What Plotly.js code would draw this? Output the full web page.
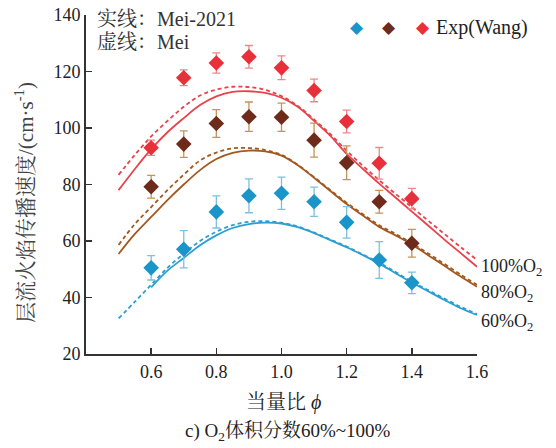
<!DOCTYPE html>
<html>
<head>
<meta charset="utf-8">
<script src="https://cdn.plot.ly/plotly-3.0.1.min.js"></script>
<style>html,body{margin:0;padding:0;background:#fff;}#chart{width:556px;height:448px;}</style>
</head>
<body>
<div id="chart"></div>
<script>
// Experimental points (Wang)
const expPhi = [0.6, 0.7, 0.8, 0.9, 1.0, 1.1, 1.2, 1.3, 1.4];
const exp100 = [93.0, 117.8, 123.0, 125.2, 121.3, 113.3, 102.3, 87.5, 75.0];
const err100 = [2.7, 2.8, 3.6, 4.0, 4.2, 4.0, 4.0, 5.6, 3.6];
const exp80 = [79.2, 94.3, 101.6, 104.0, 103.8, 95.7, 87.7, 73.9, 59.2];
const err80 = [4.0, 4.7, 4.9, 5.2, 5.0, 6.0, 6.0, 4.0, 4.9];
const exp60 = [50.5, 57.1, 70.3, 76.0, 76.9, 73.9, 66.6, 53.3, 45.2];
const err60 = [4.3, 6.6, 5.7, 6.0, 5.7, 5.2, 5.6, 6.5, 3.8];

// Model curves
const phiA = [0.5, 0.55, 0.6, 0.65, 0.7, 0.75, 0.8, 0.85, 0.9, 0.95, 1.0, 1.05, 1.1, 1.15, 1.2, 1.25, 1.3, 1.35, 1.4, 1.45, 1.5, 1.55, 1.6];
const mei2021_100 = [78.0, 85.5, 92.5, 98.5, 103.5, 108.1, 111.2, 112.8, 113.0, 112.4, 110.7, 107.5, 102.5, 97.2, 90.8, 85.5, 80.3, 75.4, 70.4, 65.5, 60.5, 55.7, 50.9];
const mei_100 = [83.4, 90.5, 97.0, 102.5, 107.5, 111.5, 113.6, 114.6, 114.5, 113.5, 111.3, 107.8, 103.0, 97.8, 92.0, 86.6, 81.5, 76.7, 72.0, 67.2, 62.5, 57.8, 53.3];
const mei2021_80 = [55.4, 62.5, 68.5, 74.5, 80.0, 85.1, 89.0, 91.2, 92.0, 91.7, 90.2, 86.8, 82.4, 77.7, 73.1, 69.0, 65.0, 62.0, 58.8, 55.0, 51.2, 47.4, 43.8];
const mei_80 = [58.6, 66.0, 72.0, 78.0, 83.5, 88.5, 91.3, 92.8, 92.9, 92.2, 90.5, 87.0, 82.6, 78.0, 73.5, 69.5, 65.6, 62.5, 59.2, 55.6, 51.9, 48.1, 44.5];
const phiB = [0.6, 0.65, 0.7, 0.75, 0.8, 0.85, 0.9, 0.95, 1.0, 1.05, 1.1, 1.15, 1.2, 1.25, 1.3, 1.35, 1.4, 1.45, 1.5, 1.55, 1.6];
const mei2021_60 = [43.6, 49.5, 54.0, 58.5, 62.0, 64.6, 66.0, 66.5, 66.2, 64.9, 62.8, 60.3, 57.8, 55.0, 52.0, 48.6, 45.3, 42.2, 39.1, 36.2, 33.8];
const mei_60 = [32.6, 38.5, 44.5, 50.5, 55.5, 60.0, 63.3, 65.6, 66.8, 67.0, 66.5, 65.1, 63.0, 60.5, 58.0, 55.2, 52.3, 49.0, 45.6, 42.6, 39.6, 36.7, 34.2];

const xTicks = [0.6, 0.8, 1.0, 1.2, 1.4, 1.6];
const yTicks = [20, 40, 60, 80, 100, 120, 140];
const curveLabels = ['100%O<sub>2</sub>', '80%O<sub>2</sub>', '60%O<sub>2</sub>'];

const RED = '#e8303a', RED_L = '#e8434b', RED_E = '#f0868c';
const BRN = '#6e2a1a', BRN_L = '#a4581f', BRN_E = '#c4935c';
const BLU = '#1a95c9', BLU_L = '#2a9fd0', BLU_E = '#7cc0df';

function line(x, y, c, dash) {
  return {x: x, y: y, mode: 'lines', type: 'scatter', showlegend: false,
    line: {color: c, width: 1.8, dash: dash ? '4px,3px' : 'solid', shape: 'spline'}, hoverinfo: 'skip'};
}
function pts(y, e, c, ec) {
  return {x: expPhi, y: y, mode: 'markers', type: 'scatter', showlegend: false,
    marker: {symbol: 'diamond', size: 12, color: c},
    error_y: {type: 'data', array: e, visible: true, color: ec, thickness: 1.3, width: 4}};
}
const traces = [
  line(phiA, mei_100, RED_L, true),
  line(phiA, mei2021_100, RED_L, false),
  line(phiA, mei_80, BRN_L, true),
  line(phiA, mei2021_80, BRN_L, false),
  line([0.5, 0.55].concat(phiB), mei_60, BLU_L, true),
  line(phiB, mei2021_60, BLU_L, false),
  pts(exp60, err60, BLU, BLU_E),
  pts(exp80, err80, BRN, BRN_E),
  pts(exp100, err100, RED, RED_E)
];

const serif = 'Liberation Serif, Noto Serif CJK SC, Noto Sans CJK SC, serif';
// pixel helpers for paper positioning of text (plot area 86..477 x, 15..354 y)
const px = x => (x - 86) / 391;
const py = y => 1 - (y - 15) / 339;
function txt(x, y, text, size, opts) {
  return Object.assign({xref: 'paper', yref: 'paper', x: px(x), y: py(y), xanchor: 'left', yanchor: 'middle',
    showarrow: false, text: text, font: {size: size, family: serif, color: '#222'}}, opts || {});
}
const layout = {
  width: 556, height: 448,
  margin: {l: 86, r: 79, t: 15, b: 94, autoexpand: false},
  paper_bgcolor: '#fff', plot_bgcolor: '#fff',
  font: {family: serif, size: 18, color: '#222'},
  showlegend: false,
  xaxis: {range: [0.4, 1.6], tickvals: xTicks, ticktext: xTicks.map(v => v.toFixed(1)),
    ticks: 'inside', ticklen: 6, tickwidth: 1.5, tickcolor: '#333',
    showline: true, linecolor: '#333', linewidth: 2, showgrid: false, zeroline: false,
    tickfont: {size: 18, family: serif, color: '#222'}, automargin: false,
    title: {text: ''}},
  yaxis: {range: [20, 140], tickvals: yTicks,
    ticks: 'inside', ticklen: 6, tickwidth: 1.5, tickcolor: '#333',
    showline: true, linecolor: '#333', linewidth: 2, showgrid: false, zeroline: false,
    tickfont: {size: 18, family: serif, color: '#222'}, automargin: false,
    title: {text: ''}},
  annotations: [
    txt(95, 19, '实线：Mei-2021', 20, {font: {size: 20, family: serif, color: '#333'}}),
    txt(95, 42, '虚线：Mei', 20, {font: {size: 20, family: serif, color: '#333'}}),
    // legend
    txt(357, 27, '◆', 17, {xanchor: 'center', font: {size: 17, family: 'DejaVu Sans', color: BLU}}),
    txt(389, 27, '◆', 17, {xanchor: 'center', font: {size: 17, family: 'DejaVu Sans', color: BRN}}),
    txt(423, 27, '◆', 17, {xanchor: 'center', font: {size: 17, family: 'DejaVu Sans', color: RED}}),
    txt(434, 27, 'Exp(Wang)', 20),
    // curve labels
    txt(479, 267, curveLabels[0], 18),
    txt(479, 293, curveLabels[1], 18),
    txt(479, 322, curveLabels[2], 18),
    // axis titles
    txt(24, 203, '层流火焰传播速度/(cm·s<sup>-1</sup>)', 21, {xanchor: 'center', textangle: -90, font: {size: 21, family: serif, color: '#444'}}),
    txt(283, 402, '当量比 <i>ϕ</i>', 20, {xanchor: 'center'}),
    txt(287, 432, 'c) O<sub>2</sub>体积分数60%~100%', 19, {xanchor: 'center'})
  ]
};
Plotly.newPlot('chart', traces, layout, {displayModeBar: false, staticPlot: true});
</script>
</body>
</html>
